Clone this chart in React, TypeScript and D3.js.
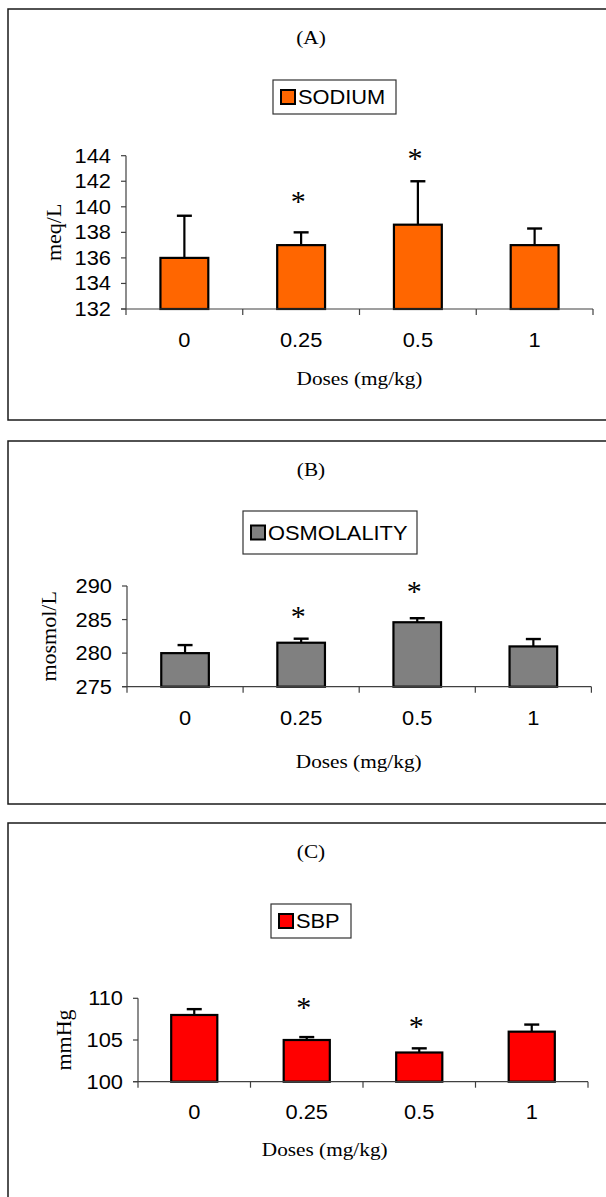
import React from "react";
import * as d3 from "d3";

const categories = ["0", "0.25", "0.5", "1"];

const sodiumMean = [136.0, 137.0, 138.6, 137.0];
const sodiumSE = [3.3, 1.0, 3.4, 1.3];
const sodiumStar = [null, 140.8, 144.1, null];
const sodiumTicks = [132, 134, 136, 138, 140, 142, 144];

const osmoMean = [280.0, 281.55, 284.6, 281.0];
const osmoSE = [1.2, 0.6, 0.6, 1.1];
const osmoStar = [null, 286.2, 289.9, null];
const osmoTicks = [275, 280, 285, 290];

const sbpMean = [108.0, 105.0, 103.5, 106.0];
const sbpSE = [0.7, 0.35, 0.5, 0.85];
const sbpStar = [null, 109.4, 107.2, null];
const sbpTicks = [100, 105, 110];

const panels = [
  {
    title: "(A)", legend: "SODIUM", ylabel: "meq/L", color: "#FF6600",
    mean: sodiumMean, se: sodiumSE, star: sodiumStar, ticks: sodiumTicks,
    layout: { top: 9, bottom: 420, titleY: 37, lx: 273, ly: 80, lw: 123, lh: 34,
      x0: 126, x1: 593, y0: 309, y1: 155.7, ylabX: 54, tickY: 340, dosesX: 359.5, dosesY: 378 },
  },
  {
    title: "(B)", legend: "OSMOLALITY", ylabel: "mosmol/L", color: "#808080",
    mean: osmoMean, se: osmoSE, star: osmoStar, ticks: osmoTicks,
    layout: { top: 441, bottom: 804, titleY: 469, lx: 243, ly: 511, lw: 174, lh: 43,
      x0: 127, x1: 591.4, y0: 686.7, y1: 586, ylabX: 49, tickY: 718, dosesX: 358.7, dosesY: 761 },
  },
  {
    title: "(C)", legend: "SBP", ylabel: "mmHg", color: "#FF0000",
    mean: sbpMean, se: sbpSE, star: sbpStar, ticks: sbpTicks,
    layout: { top: 823, bottom: 1215, titleY: 851, lx: 271, ly: 904, lw: 80, lh: 34,
      x0: 138, x1: 588, y0: 1081.7, y1: 998.3, ylabX: 64, tickY: 1112, dosesX: 324.7, dosesY: 1149 },
  },
];

const SANS = "Arial, 'Liberation Sans', sans-serif";
const SERIF = "'Times New Roman', 'Liberation Serif', serif";
const SX = 1.12;

function SText({ x, y, size, family, anchor = "middle", children }: any) {
  // y is the visual vertical center of capital letters
  const base = y + 0.36 * size;
  return (
    <text
      transform={`translate(${x},${base}) scale(${SX},1)`}
      fontSize={size}
      fontFamily={family}
      textAnchor={anchor}
      fill="#000"
    >
      {children}
    </text>
  );
}

function Panel({ p }: any) {
  const L = p.layout;
  const x = d3.scaleBand().domain(categories).range([L.x0, L.x1]).paddingInner(0).paddingOuter(0);
  const y = d3.scaleLinear().domain([p.ticks[0], p.ticks[p.ticks.length - 1]]).range([L.y0, L.y1]);
  const bw = x.bandwidth() * 0.41;
  const bounds = [...categories.map((c) => x(c) as number), L.x1];
  return (
    <g>
      <rect x={8} y={L.top} width={640} height={L.bottom - L.top} fill="#fff" stroke="#1a1a1a" strokeWidth={1.5} />
      <SText x={311} y={L.titleY} size={19} family={SERIF}>{p.title}</SText>
      {/* legend */}
      <rect x={L.lx} y={L.ly} width={L.lw} height={L.lh} fill="#fff" stroke="#333" strokeWidth={1.2} />
      <rect x={L.lx + 8} y={L.ly + L.lh / 2 - 7} width={14} height={14} fill={p.color} stroke="#000" strokeWidth={2} />
      <SText x={L.lx + 25} y={L.ly + L.lh / 2} size={19.5} family={SANS} anchor="start">{p.legend}</SText>
      {/* bars */}
      {categories.map((c, i) => {
        const cx = (x(c) as number) + x.bandwidth() / 2;
        const top = y(p.mean[i]);
        const etop = y(p.mean[i] + p.se[i]);
        return (
          <g key={c}>
            <line x1={cx} x2={cx} y1={top} y2={etop} stroke="#000" strokeWidth={2.2} />
            <line x1={cx - 7.5} x2={cx + 7.5} y1={etop} y2={etop} stroke="#000" strokeWidth={2.4} />
            <rect x={cx - bw / 2} y={top} width={bw} height={L.y0 - top} fill={p.color} stroke="#000" strokeWidth={2.2} />
            {p.star[i] != null && (
              <text x={cx - 3} y={y(p.star[i]) + 14} fontSize={30} fontFamily={SERIF} textAnchor="middle" fill="#000">*</text>
            )}
          </g>
        );
      })}
      {/* y axis */}
      <line x1={L.x0} x2={L.x0} y1={L.y0} y2={L.y1} stroke="#404040" strokeWidth={1.2} />
      {p.ticks.map((t: number) => (
        <g key={t}>
          <line x1={L.x0 - 5} x2={L.x0} y1={y(t)} y2={y(t)} stroke="#404040" strokeWidth={1.2} />
          <SText x={L.x0 - 15} y={y(t)} size={19.5} family={SANS} anchor="end">{t}</SText>
        </g>
      ))}
      {/* x axis */}
      <line x1={L.x0 - 5} x2={L.x1} y1={L.y0} y2={L.y0} stroke="#404040" strokeWidth={1.2} />
      {bounds.map((bx: number, i: number) => (
        <line key={i} x1={bx} x2={bx} y1={L.y0} y2={L.y0 + 6} stroke="#404040" strokeWidth={1.2} />
      ))}
      {categories.map((c) => (
        <SText key={c} x={(x(c) as number) + x.bandwidth() / 2} y={L.tickY} size={19.5} family={SANS}>{c}</SText>
      ))}
      <SText x={L.dosesX} y={L.dosesY} size={19} family={SERIF}>Doses (mg/kg)</SText>
      <text
        transform={`translate(${L.ylabX + 7},${(L.y0 + L.y1) / 2}) rotate(-90)`}
        fontSize={22}
        fontFamily={SERIF}
        textAnchor="middle"
        fill="#000"
      >
        {p.ylabel}
      </text>
    </g>
  );
}

export default function App() {
  return (
    <svg
      width={606}
      height={1197}
      style={{ position: "absolute", left: 0, top: 0, background: "#fff" }}
    >
      <rect x={0} y={0} width={606} height={1197} fill="#fff" />
      {panels.map((p) => (
        <Panel key={p.title} p={p} />
      ))}
    </svg>
  );
}
